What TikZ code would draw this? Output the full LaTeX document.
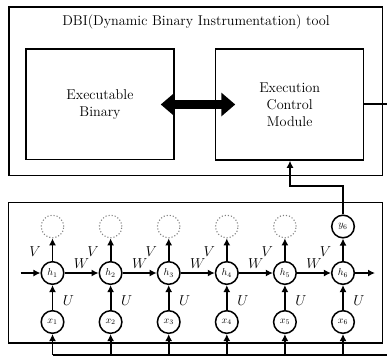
\documentclass[tikz,border=0pt]{standalone}
\usetikzlibrary{arrows.meta}
\begin{document}
\begin{tikzpicture}[x=1pt,y=-1pt,
  boxst/.style={draw, line width=1.5pt, inner sep=0pt},
  txt/.style={font=\fontsize{14.2}{17}\selectfont, align=center},
  unit/.style={draw, circle, line width=1.5pt, minimum size=22.6pt, inner sep=0pt, font=\fontsize{10}{10}\selectfont},
  ghost/.style={draw=gray, dotted, circle, line width=1.1pt, minimum size=22.6pt, inner sep=0pt},
  arr/.style={line width=1.8pt, -{Latex[length=7pt,width=7pt]}},
  plain/.style={line width=1.8pt},
  lbl/.style={font=\fontsize{13.5}{14}\selectfont}
]
\useasboundingbox (0,0) rectangle (387,357);

% upper part
\node[boxst, minimum width=373.5pt, minimum height=168.5pt] (dbi) at (195.75,91.25) {};
\node[txt, anchor=base] (title) at (196,25.3) {DBI(Dynamic Binary Instrumentation) tool};
\node[boxst, minimum width=148pt, minimum height=110.5pt, txt] (eb) at (100,104.25) {Executable\\Binary};
\node[boxst, minimum width=148pt, minimum height=111pt, txt] (ecm) at (289.7,104.5) {Execution\\Control\\Module};
\draw[line width=9pt, {Triangle[length=14pt,width=23pt]}-{Triangle[length=14pt,width=23pt]}]
  ([xshift=-14pt]eb.east |- 0,104.5) -- ([xshift=20.3pt]ecm.west |- 0,104.5);
\coordinate (fb) at (387,104);
\draw[plain] (ecm.east |- fb) -- (fb);

% lower part
\node[boxst, minimum width=373.8pt, minimum height=140.5pt] (rnn) at (195.4,272.75) {};

\foreach \i in {1,...,6} {
  \pgfmathsetmacro{\cx}{52.5+58.1*(\i-1)}
  \node[unit] (h\i) at (\cx,273) {$h_{\i}$};
  \node[unit] (x\i) at (\cx,322) {$x_{\i}$};
  \coordinate (b\i) at (\cx,355);
  \draw[arr] (b\i) -- (x\i);
  \draw[arr] (x\i) -- (h\i);
  \node[lbl] (u\i) at (\cx+16,300.5) {$U$};
  \node[lbl] (v\i) at (\cx-17.5,251.5) {$V$};
}
\foreach \i in {1,...,5} {
  \pgfmathsetmacro{\cx}{52.5+58.1*(\i-1)}
  \node[ghost] (o\i) at (\cx,226.5) {};
  \draw[arr] (h\i) -- (o\i);
}
\node[unit] (y6) at (343,226.5) {$y_{6}$};
\draw[arr] (h6) -- (y6);

\foreach \i/\j in {1/2,2/3,3/4,4/5,5/6} {
  \draw[arr] (h\i) -- (h\j) node[lbl, midway, above=0pt] (w\i) {$W$};
}
\coordinate (hin) at (20.5,273);
\coordinate (hout) at (375,273);
\draw[arr] (hin) -- (h1);
\draw[arr] (h6) -- (hout);

% bottom feed line
\coordinate (bend) at (387,355);
\draw[plain] (b1) -- (bend);

% y6 to ECM
\coordinate (k1) at (343,186);
\coordinate (k2) at (290,186);
\draw[arr] (y6.north) -- (k1) -- (k2) -- (k2 |- ecm.south);
\end{tikzpicture}
\end{document}
